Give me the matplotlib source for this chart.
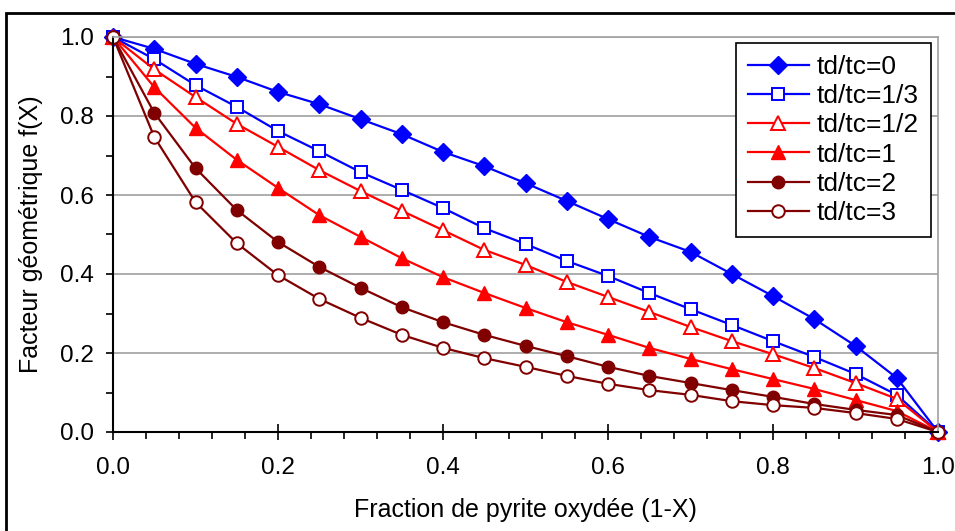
import numpy as np
import matplotlib.pyplot as plt
from matplotlib.patches import Rectangle
from matplotlib.ticker import MultipleLocator

plt.rcParams["font.family"] = ["Liberation Sans", "DejaVu Sans"]

# fraction oxydée (1-X)
x = [0.0, 0.05, 0.1, 0.15, 0.2, 0.25, 0.3, 0.35, 0.4, 0.45, 0.5,
     0.55, 0.6, 0.65, 0.7, 0.75, 0.8, 0.85, 0.9, 0.95, 1.0]

f_0 = [1.0, 0.970, 0.932, 0.899, 0.861, 0.830, 0.792, 0.754, 0.709, 0.673, 0.630,
       0.585, 0.539, 0.494, 0.456, 0.400, 0.344, 0.286, 0.218, 0.137, 0.0]
f_1_3 = [1.0, 0.944, 0.878, 0.823, 0.762, 0.711, 0.658, 0.613, 0.567, 0.516, 0.476,
         0.433, 0.395, 0.352, 0.311, 0.271, 0.230, 0.190, 0.147, 0.094, 0.0]
f_1_2 = [1.0, 0.918, 0.848, 0.780, 0.722, 0.663, 0.610, 0.560, 0.511, 0.461, 0.423,
         0.380, 0.342, 0.304, 0.266, 0.230, 0.197, 0.162, 0.124, 0.084, 0.0]
f_1 = [1.0, 0.873, 0.770, 0.689, 0.618, 0.549, 0.494, 0.440, 0.392, 0.352, 0.314,
       0.278, 0.246, 0.213, 0.185, 0.159, 0.134, 0.109, 0.081, 0.053, 0.0]
f_2 = [1.0, 0.808, 0.668, 0.562, 0.481, 0.418, 0.365, 0.316, 0.278, 0.246, 0.218,
       0.192, 0.165, 0.142, 0.124, 0.106, 0.089, 0.071, 0.056, 0.043, 0.0]
f_3 = [1.0, 0.747, 0.582, 0.478, 0.397, 0.337, 0.289, 0.246, 0.213, 0.187, 0.165,
       0.142, 0.122, 0.106, 0.094, 0.078, 0.068, 0.061, 0.048, 0.033, 0.0]

labels = ["td/tc=0", "td/tc=1/3", "td/tc=1/2", "td/tc=1", "td/tc=2", "td/tc=3"]

fig = plt.figure(figsize=(9.55, 5.31), dpi=100)
ax = fig.add_axes([113 / 955, 1 - 432 / 531, 825 / 955, 395 / 531])

# outer chart frame
fig.patches.append(Rectangle((6 / 955, -0.2), 1.2, 0.2 + 1 - 13 / 531,
                             transform=fig.transFigure, fill=False,
                             edgecolor="black", linewidth=2))

blue, red, dred = "#0000ff", "#ff0000", "#800000"
ax.plot(x, f_0, color=blue, lw=1.6, marker="D", ms=9, mfc=blue, mec=blue, label=labels[0])
ax.plot(x, f_1_3, color=blue, lw=1.6, marker="s", ms=9, mfc="white", mec=blue, mew=1.4, label=labels[1])
ax.plot(x, f_1_2, color=red, lw=1.6, marker="^", ms=10, mfc="white", mec=red, mew=1.4, label=labels[2])
ax.plot(x, f_1, color=red, lw=1.6, marker="^", ms=10, mfc=red, mec=red, label=labels[3])
ax.plot(x, f_2, color=dred, lw=1.6, marker="o", ms=9, mfc=dred, mec=dred, label=labels[4])
ax.plot(x, f_3, color=dred, lw=1.6, marker="o", ms=9, mfc="white", mec=dred, mew=1.4, label=labels[5])

ax.set_xlim(0, 1)
ax.set_ylim(0, 1)
ax.xaxis.set_major_locator(MultipleLocator(0.2))
ax.xaxis.set_minor_locator(MultipleLocator(0.04))
ax.yaxis.set_major_locator(MultipleLocator(0.2))
ax.yaxis.set_minor_locator(MultipleLocator(0.1))
ax.xaxis.set_major_formatter(plt.FormatStrFormatter("%.1f"))
ax.yaxis.set_major_formatter(plt.FormatStrFormatter("%.1f"))
ax.grid(axis="y", which="major", color="#a0a0a0", lw=1.2)
ax.set_axisbelow(True)

ax.tick_params(axis="x", which="major", direction="inout", length=12, width=1.2, labelsize=17.5, pad=12)
ax.tick_params(axis="x", which="minor", direction="out", length=5, width=1.2)
ax.tick_params(axis="y", which="both", direction="out", length=5, width=1.2, labelsize=17.5, pad=9)

for s in ["left", "bottom"]:
    ax.spines[s].set_color("black")
    ax.spines[s].set_linewidth(1.5)
for s in ["top", "right"]:
    ax.spines[s].set_color("#a0a0a0")
    ax.spines[s].set_linewidth(1.2)
for ln in ax.lines:
    ln.set_clip_on(False)

ax.set_xlabel("Fraction de pyrite oxydée (1-X)", fontsize=18, labelpad=14)
ax.set_ylabel("Facteur géométrique f(X)", fontsize=18, labelpad=12)

leg = ax.legend(loc="upper right", bbox_to_anchor=(0.991, 0.985), fontsize=19,
                fancybox=False, framealpha=1, edgecolor="black", handlelength=2.3,
                borderpad=0.45, labelspacing=0.2, handletextpad=0.3, borderaxespad=0)
leg.get_frame().set_linewidth(1.2)

fig.savefig("out.png", dpi=100)
